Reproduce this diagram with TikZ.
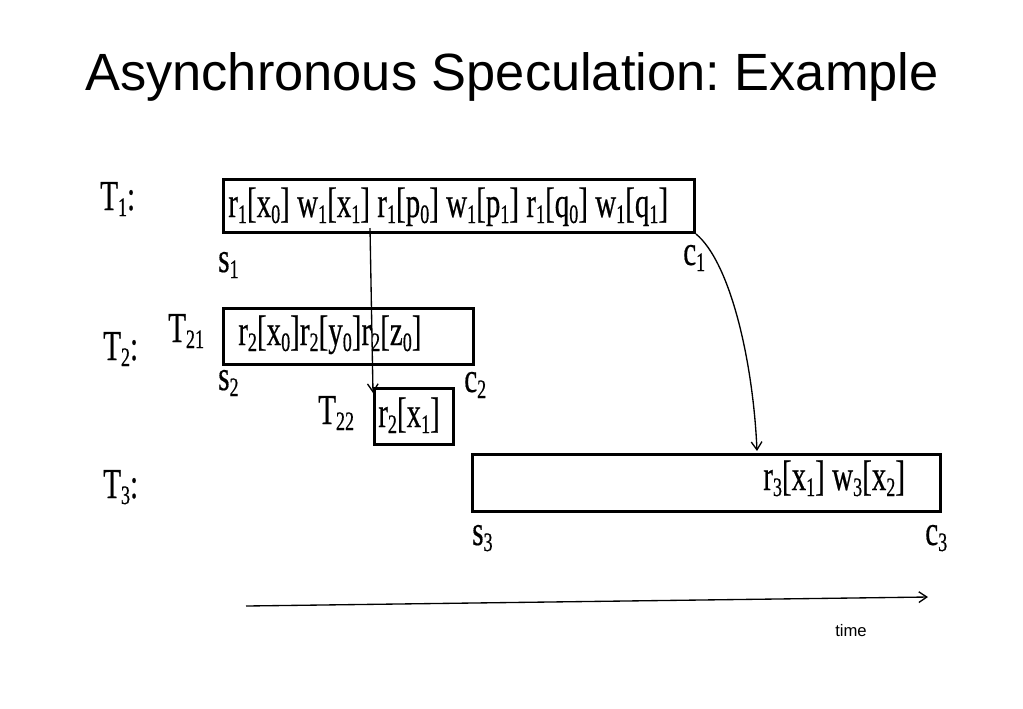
\documentclass[tikz,border=0pt]{standalone}
\usepackage{fontspec}
\setmainfont{Liberation Serif}
\newfontfamily\condfont[FakeStretch=0.68,FakeBold=0.4]{Liberation Serif}
\newfontfamily\arialfont{Liberation Sans}
\usetikzlibrary{arrows.meta}
\newcommand\lo[1]{\raisebox{-4.5pt}{\fontsize{20}{22}\selectfont #1}}
\frenchspacing
\begin{document}
\begin{tikzpicture}[x=0.75pt,y=-0.75pt,
  box/.style={draw, line width=2.2pt, inner sep=0pt, anchor=north west},
  lbl/.style={font=\condfont\fontsize{32}{34}\selectfont, inner sep=0pt, anchor=base west},
  conn/.style={line width=1pt, -{Straight Barb[length=6pt,width=8pt]}}]
\useasboundingbox (0,0) rectangle (1023,708);
\node[font=\arialfont\fontsize{39.3}{42}\selectfont, inner sep=0pt, anchor=base] (title) at (512,90) {Asynchronous Speculation: Example};
% boxes
\node[box, minimum width=353.25pt, minimum height=39.75pt] (t1) at (222,178) {};
\node[box, minimum width=187.5pt, minimum height=42pt] (t21) at (222,307) {};
\node[box, minimum width=59.25pt, minimum height=42pt] (t22) at (373,387) {};
\node[box, minimum width=351pt, minimum height=42.75pt] (t3) at (471,453) {};
% box texts
\node[lbl] (t1txt) at (228,217) {r\lo1[x\lo0] w\lo1[x\lo1] r\lo1[p\lo0] w\lo1[p\lo1] r\lo1[q\lo0] w\lo1[q\lo1]};
\node[lbl] (t21txt) at (238,345) {r\lo2[x\lo0]r\lo2[y\lo0]r\lo2[z\lo0]};
\node[lbl] (t22txt) at (378,427) {r\lo2[x\lo1]};
\node[lbl] (t3txt) at (763,490) {r\lo3[x\lo1] w\lo3[x\lo2]};
% labels
\node[lbl] (lt1) at (100,210) {T\lo1:};
\node[lbl] (lt2) at (103,360) {T\lo2:};
\node[lbl] (lt3) at (103,498) {T\lo3:};
\node[lbl] (lt21) at (168,342) {T\lo{21}};
\node[lbl] (lt22) at (318,424) {T\lo{22}};
\node[lbl] (s1) at (218,272) {s\lo1};
\node[lbl] (c1) at (683,265) {c\lo1};
\node[lbl] (s2) at (218,390) {s\lo2};
\node[lbl] (c2) at (464,392) {c\lo2};
\node[lbl] (s3) at (472,545) {s\lo3};
\node[lbl] (c3) at (925,545) {c\lo3};
\node[font=\arialfont\fontsize{12.5}{14}\selectfont, inner sep=0pt, anchor=base west] (time) at (835,636) {time};
% connectors
\coordinate (a1s) at (370,228);
\coordinate (a1e) at (373,393);
\draw[conn] (a1s) -- (a1e);
\coordinate (a2e) at (757,451);
\draw[conn] (t1.south east) .. controls (730,262) and (753,360) .. (a2e);
\coordinate (ts) at (246,606);
\coordinate (te) at (928,597);
\draw[conn] (ts) -- (te);
\end{tikzpicture}
\end{document}
